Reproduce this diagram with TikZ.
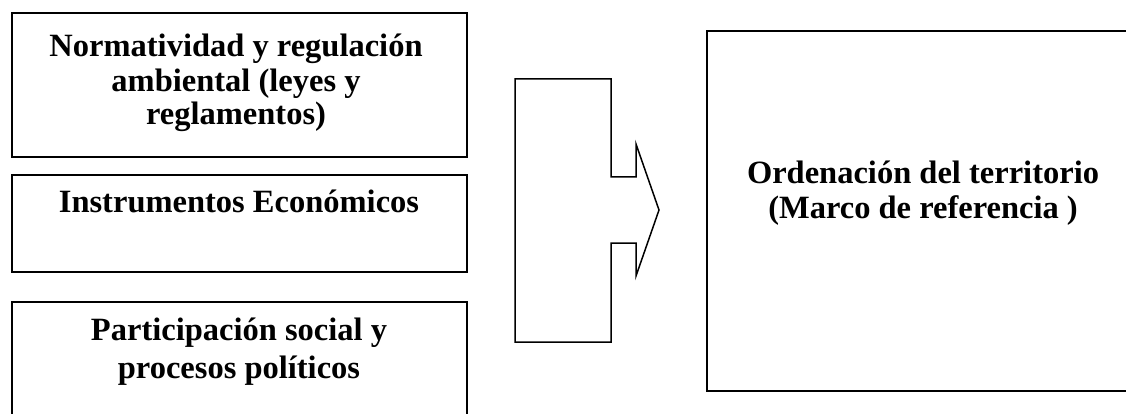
\documentclass[tikz,border=0pt]{standalone}
\usepackage{fontspec}
\setmainfont{Liberation Serif}
\begin{document}
\begin{tikzpicture}[x=1pt,y=-1pt,
  box/.style={draw=black,line width=2pt},
  lbl/.style={font=\bfseries\fontsize{32.5}{32.5}\selectfont,anchor=base,inner sep=0pt}]
\useasboundingbox (0,0) rectangle (1126,414);
\clip (0,0) rectangle (1126,414);
\draw[box] (12,13) rectangle (467,157);
\draw[box] (12,175) rectangle (467,272);
\draw[box] (12,302) rectangle (467,440);
\draw[box] (707,31) rectangle (1150,391);
\node[lbl] (t1a) at (236,57) {Normatividad y regulación};
\node[lbl] (t1b) at (236,92) {ambiental (leyes y};
\node[lbl] (t1c) at (236,125) {reglamentos)};
\node[lbl] (t2) at (239,212) {Instrumentos Económicos};
\node[lbl] (t3a) at (239,340) {Participación social y};
\node[lbl] (t3b) at (239,378) {procesos políticos};
\node[lbl] (t4a) at (923,183) {Ordenación del territorio};
\node[lbl] (t4b) at (923,218) {(Marco de referencia )};
\draw[line width=1.5pt,line join=miter] (515,79) -- (611,79) -- (611,177) -- (636,177) -- (636,144) -- (659,210) -- (636,276) -- (636,243) -- (611,243) -- (611,342) -- (515,342) -- cycle;
\end{tikzpicture}
\end{document}
